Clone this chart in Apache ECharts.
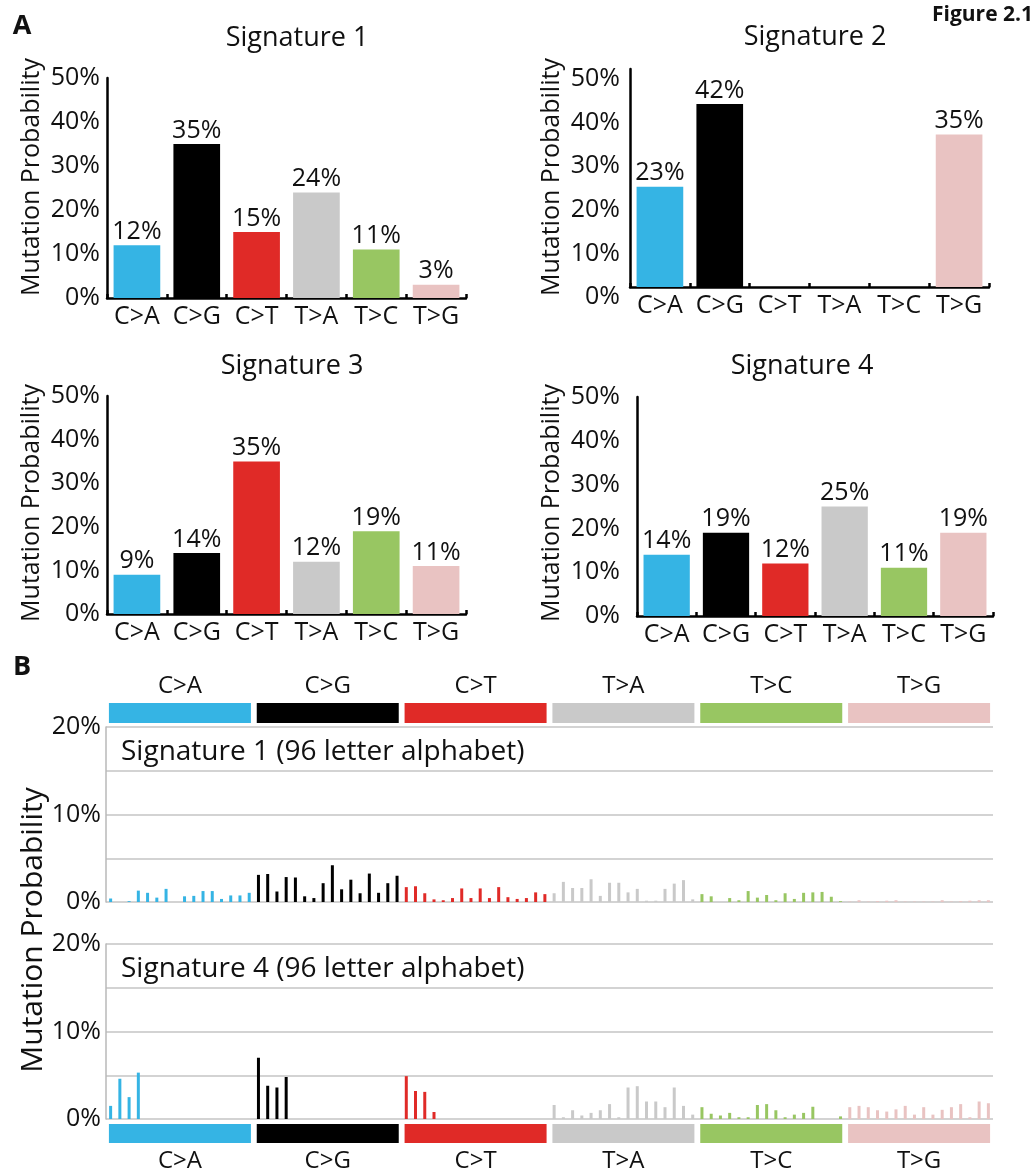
<!DOCTYPE html>
<html><head><meta charset="utf-8">
<script src="https://cdn.jsdelivr.net/npm/echarts@6/dist/echarts.min.js"></script>
<style>html,body{margin:0;padding:0;background:#fff}#c{width:1036px;height:1173px}</style>
</head><body><div id="c"></div>
<script>
// ---- data ----
const categories = ['C>A', 'C>G', 'C>T', 'T>A', 'T>C', 'T>G'];
const groupColors = ['#35b4e4', '#000000', '#e02a27', '#c9c9c9', '#98c662', '#e9c3c2'];
const sig1 = [12, 35, 15, 24, 11, 3];
const sig2 = [23, 42, 0, 0, 0, 35];
const sig3 = [9, 14, 35, 12, 19, 11];
const sig4 = [14, 19, 12, 25, 11, 19];
const yTicksA = [0, 10, 20, 30, 40, 50];
const yTicksB = [0, 10, 20];

// Signature 1, 96 letter alphabet (percent)
const s1_CA = [0.4, 0, 0.1, 1.3, 1.05, 0.5, 1.5, 0, 0.65, 0.7, 1.25, 1.25, 0.35, 0.75, 0.75, 1.05];
const s1_CG = [3.1, 3.2, 1.2, 2.85, 2.8, 0.65, 0.45, 2.15, 4.2, 1.45, 2.55, 1.0, 3.25, 1.05, 2.15, 3.0];
const s1_CT = [1.7, 1.8, 1.0, 0.3, 0.2, 0.45, 1.55, 0.45, 1.55, 0.45, 1.7, 0.55, 0.35, 0.45, 1.1, 0.9];
const s1_TA = [1.0, 2.3, 1.6, 1.6, 2.6, 0.7, 2.2, 2.2, 1.1, 1.5, 0.15, 0.15, 1.5, 2.1, 2.5, 0.3];
const s1_TC = [0.9, 0.65, 0, 0.45, 0.2, 1.25, 0.5, 0.8, 0.2, 1.0, 0.35, 1.05, 1.1, 1.15, 0.6, 0.1];
const s1_TG = [0.05, 0.2, 0.05, 0.1, 0.15, 0.2, 0.05, 0.05, 0.05, 0.05, 0.2, 0.05, 0.1, 0.15, 0.2, 0.2];
// Signature 4, 96 letter alphabet (percent)
const s4_CA = [1.5, 4.6, 2.5, 5.3, 0, 0, 0, 0, 0, 0, 0, 0, 0, 0, 0, 0];
const s4_CG = [7.0, 3.8, 3.6, 4.8, 0, 0, 0, 0, 0, 0, 0, 0, 0, 0, 0, 0];
const s4_CT = [4.9, 3.2, 3.1, 0.8, 0, 0, 0, 0, 0, 0, 0, 0, 0, 0, 0, 0];
const s4_TA = [1.6, 0.2, 1.0, 0.4, 0.7, 1.0, 1.7, 0.2, 3.6, 3.75, 2.0, 2.0, 1.35, 3.6, 1.5, 0.5];
const s4_TC = [1.35, 0.6, 0.4, 0.7, 0.2, 0.2, 1.6, 1.7, 1.0, 0.2, 0.5, 0.7, 1.4, 0, 0, 0.3];
const s4_TG = [1.35, 1.5, 1.35, 1.0, 0.85, 1.1, 1.5, 0.5, 1.35, 0.5, 1.05, 1.35, 1.7, 0.2, 2.0, 1.8];

// ---- build ----
const FONT = '"Open Sans", "Noto Sans", sans-serif';
const TXT = '#111111';
const sig1_96 = [s1_CA, s1_CG, s1_CT, s1_TA, s1_TC, s1_TG];
const sig4_96 = [s4_CA, s4_CG, s4_CT, s4_TA, s4_TC, s4_TG];
const cat96 = [];
categories.forEach(c => { for (let k = 0; k < 16; k++) cat96.push(c + '_' + k); });

function colored96(groups) {
  const out = [];
  groups.forEach((g, gi) => g.forEach(v => out.push({ value: v, itemStyle: { color: groupColors[gi] } })));
  return out;
}
function coloredSix(vals) {
  return vals.map((v, i) => ({ value: v, itemStyle: { color: groupColors[i] } }));
}

const gridsA = [
  { left: 107, top: 78, width: 359, height: 220 },
  { left: 630, top: 69, width: 359, height: 218 },
  { left: 107, top: 396, width: 359, height: 218 },
  { left: 637, top: 397, width: 356, height: 219 }
];
const labelMargins = [7, 10, 7, 17];
const sigsA = [sig1, sig2, sig3, sig4];

const grid = [], xAxis = [], yAxis = [], series = [];
gridsA.forEach((g, i) => {
  grid.push(g);
  xAxis.push({
    type: 'category', gridIndex: i, data: categories,
    axisLine: { lineStyle: { color: '#000', width: 2.5 } },
    axisTick: { show: true, inside: true, length: 4, lineStyle: { color: '#000', width: 2.5 } },
    axisLabel: { interval: 0, hideOverlap: false, fontFamily: FONT, fontSize: 25, color: TXT, margin: 6 }
  });
  const yLabel = { fontFamily: FONT, fontSize: 25, color: TXT, margin: labelMargins[i],
      formatter: v => yTicksA.includes(v) ? v + '%' : '' };
  if (i === 1) { yLabel.verticalAlign = 'top'; yLabel.lineHeight = 20; }
  yAxis.push({
    type: 'value', gridIndex: i, min: yTicksA[0], max: yTicksA[yTicksA.length - 1], interval: 10,
    axisLine: { show: true, lineStyle: { color: '#000', width: 2.5 } },
    axisTick: { show: false }, splitLine: { show: false },
    axisLabel: yLabel
  });
  series.push({
    type: 'bar', xAxisIndex: i, yAxisIndex: i, data: coloredSix(sigsA[i]), barCategoryGap: '22%',
    label: { show: true, position: 'top', distance: 1, fontFamily: FONT, fontSize: 25, color: TXT,
      formatter: p => p.value > 0 ? p.value + '%' : '' },
    silent: true
  });
});

// top strip (grid 4)
grid.push({ left: 106, top: 703, width: 887, height: 20 });
xAxis.push({ type: 'category', gridIndex: 4, data: categories, position: 'top',
  axisLine: { show: false }, axisTick: { show: false },
  axisLabel: { interval: 0, fontFamily: FONT, fontSize: 24, color: TXT, margin: 5 } });
yAxis.push({ type: 'value', gridIndex: 4, min: 0, max: 1, show: false });
series.push({ type: 'bar', xAxisIndex: 4, yAxisIndex: 4, data: coloredSix([1,1,1,1,1,1]), barWidth: 142, silent: true });

// B plots (grid 5, 6)
const gridsB = [{ left: 106, top: 727, width: 887, height: 175 }, { left: 106, top: 944, width: 887, height: 175 }];
const dataB = [sig1_96, sig4_96];
gridsB.forEach((g, j) => {
  const gi = 5 + j;
  grid.push(g);
  xAxis.push({ type: 'category', gridIndex: gi, data: cat96,
    axisLine: { show: false }, axisTick: { show: false }, axisLabel: { show: false } });
  yAxis.push({ type: 'value', gridIndex: gi, min: 0, max: 20, interval: 5,
    axisLine: { show: true, lineStyle: { color: '#b8b8b8', width: 1.5 } },
    axisTick: { show: false },
    splitLine: { show: true, lineStyle: { color: '#c4c4c4', width: 1.5 } },
    axisLabel: { fontFamily: FONT, fontSize: 25, color: TXT, margin: 5,
      formatter: v => yTicksB.includes(v) ? v + '%' : '' } });
  series.push({ type: 'bar', xAxisIndex: gi, yAxisIndex: gi, data: colored96(dataB[j]), barWidth: 3, silent: true });
});

// bottom strip (grid 7)
grid.push({ left: 106, top: 1124, width: 887, height: 21 });
xAxis.push({ type: 'category', gridIndex: 7, data: categories, position: 'bottom',
  axisLine: { show: false }, axisTick: { show: false },
  axisLabel: { interval: 0, fontFamily: FONT, fontSize: 24, color: TXT, margin: 6 } });
yAxis.push({ type: 'value', gridIndex: 7, min: 0, max: 1, show: false });
series.push({ type: 'bar', xAxisIndex: 7, yAxisIndex: 7, data: coloredSix([1,1,1,1,1,1]), barWidth: 142, silent: true });

function txt(text, x, y, size, opts) {
  opts = opts || {};
  return { type: 'text', x: x, y: y, rotation: opts.rot || 0, silent: true,
    style: { text: text, fill: TXT, fontFamily: FONT, fontSize: size, fontWeight: opts.bold ? 'bold' : 'normal',
      align: opts.align || 'center', verticalAlign: 'middle', textAlign: opts.align || 'center', textVerticalAlign: 'middle' } };
}
const graphic = [
  txt('A', 22, 26, 27, { bold: true }),
  txt('Figure 2.1', 1033, 15, 21, { bold: true, align: 'right' }),
  txt('Signature 1', 297, 38, 27),
  txt('Signature 2', 815, 37, 27),
  txt('Signature 3', 292, 366, 27),
  txt('Signature 4', 802, 366, 27),
  txt('Mutation Probability', 32, 177, 25, { rot: Math.PI / 2 }),
  txt('Mutation Probability', 552, 177, 25, { rot: Math.PI / 2 }),
  txt('Mutation Probability', 32, 503, 25, { rot: Math.PI / 2 }),
  txt('Mutation Probability', 552, 503, 25, { rot: Math.PI / 2 }),
  txt('B', 22, 667, 27, { bold: true }),
  txt('Signature 1 (96 letter alphabet)', 121, 752, 28, { align: 'left' }),
  txt('Signature 4 (96 letter alphabet)', 121, 969, 28, { align: 'left' }),
  txt('Mutation Probability', 33, 930, 30, { rot: Math.PI / 2 })
];

const chart = echarts.init(document.getElementById('c'), null, { renderer: 'canvas' });
chart.setOption({ animation: false, backgroundColor: '#fff', grid, xAxis, yAxis, series, graphic });
</script>
</body></html>
